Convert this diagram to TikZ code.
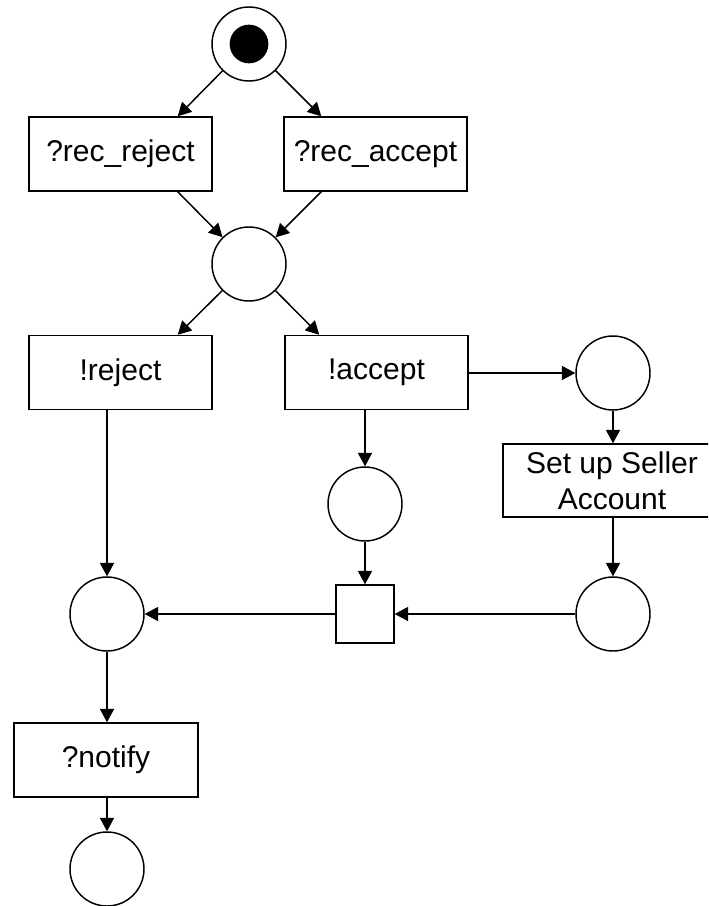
\documentclass[tikz,border=0pt]{standalone}
\usepackage{fontspec}
\setmainfont{Liberation Sans}
\usetikzlibrary{arrows.meta,calc}
\begin{document}
\begin{tikzpicture}[x=0.75pt,y=-0.75pt,
  place/.style={circle,draw,line width=1.1pt,minimum size=55.5pt,inner sep=0pt},
  token/.style={circle,fill=black,minimum size=29pt,inner sep=0pt},
  trans/.style={rectangle,draw,line width=1.1pt,minimum width=137.25pt,minimum height=55.5pt,inner sep=0pt,font=\fontsize{22.5}{27}\selectfont,align=center},
  sync/.style={rectangle,draw,line width=1.1pt,minimum size=43.5pt,inner sep=0pt},
  arr/.style={line width=1.1pt,-{Triangle[length=10pt,width=10.5pt]}},
]
\useasboundingbox (0,0) rectangle (708,906);
\clip (0,0) rectangle (708,906);
\fill[white] (0,0) rectangle (708,906);

\node[place] (p0) at (249,44) {};
\node[token] (tok) at (249,44) {};
\node[trans] (rrej) at (120.5,154) {?rec\_reject};
\node[trans] (racc) at (375.5,154) {?rec\_accept};
\node[place] (p1) at (249,264) {};
\node[trans] (rej) at (120.5,372.5) {!reject};
\node[trans] (acc) at (376.5,372.5) {!accept};
\node[place] (p2) at (613,373) {};
\node[trans,minimum width=163.5pt,minimum height=54.75pt] (setup) at (612,480.5) {Set up Seller\\Account};
\node[place] (p3) at (365,504) {};
\node[sync] (t) at (365,614) {};
\node[place] (p4) at (107,614) {};
\node[place] (p5) at (613,614) {};
\node[trans,minimum width=138pt] (notify) at (106,760) {?notify};
\node[place] (p6) at (107,869) {};

\draw[arr] (p0) -- ($(rrej.north east)+(-35,0)$);
\draw[arr] (p0) -- ($(racc.north west)+(38,0)$);
\draw[arr] ($(rrej.south east)+(-35,0)$) -- (p1);
\draw[arr] ($(racc.south west)+(38,0)$) -- (p1);
\draw[arr] (p1) -- ($(rej.north east)+(-35,0)$);
\draw[arr] (p1) -- ($(acc.north west)+(35,0)$);
\draw[arr] (acc.east |- p2) -- (p2);
\draw[arr] (p2) -- (p2 |- setup.north);
\draw[arr] (acc.south -| p3) -- (p3);
\draw[arr] (p3) -- (t);
\draw[arr] (rej.south -| p4) -- (p4);
\draw[arr] (setup.south -| p5) -- (p5);
\draw[arr] (p5) -- (t);
\draw[arr] (t) -- (p4);
\draw[arr] (p4) -- (p4 |- notify.north);
\draw[arr] (notify.south -| p6) -- (p6);
\end{tikzpicture}
\end{document}
